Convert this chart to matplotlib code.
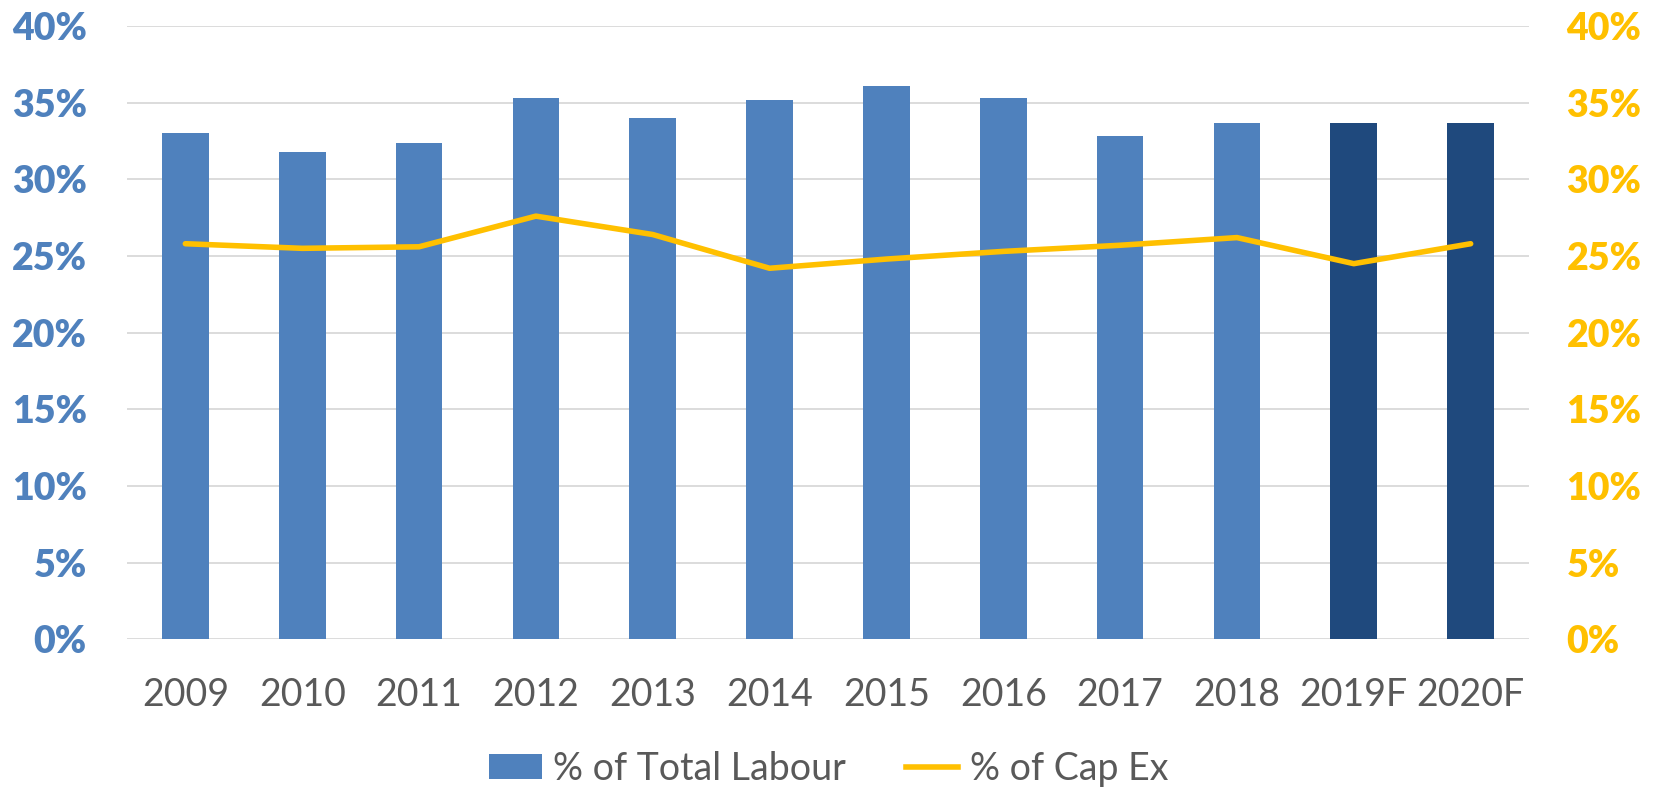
import matplotlib
matplotlib.use("Agg")
import matplotlib.pyplot as plt
import numpy as np
from matplotlib.patches import Patch
from matplotlib.lines import Line2D
from matplotlib.ticker import FuncFormatter

years = ["2009", "2010", "2011", "2012", "2013", "2014", "2015", "2016",
         "2017", "2018", "2019F", "2020F"]
total_labour = [33.0, 31.8, 32.4, 35.3, 34.0, 35.2, 36.1, 35.3, 32.8, 33.7, 33.7, 33.7]
cap_ex = [25.8, 25.5, 25.6, 27.6, 26.4, 24.2, 24.8, 25.3, 25.7, 26.2, 24.5, 25.8]
y_ticks = [0, 5, 10, 15, 20, 25, 30, 35, 40]

BLUE = "#4F81BD"
DARK = "#1F497D"
GOLD = "#FFC000"
GRID = "#D9D9D9"
GRAY = "#595959"
FONT = ["Lato", "DejaVu Sans"]

fig = plt.figure(figsize=(16.57, 7.88), dpi=100)
ax = fig.add_axes([0.0766, 0.1887, 0.9228 - 0.0766, 0.967 - 0.1887])
ax2 = ax.twinx()

x = np.arange(len(years))
colors = [DARK if y.endswith("F") else BLUE for y in years]
ax.bar(x, total_labour, width=0.4, color=colors, zorder=2)
ax2.plot(x, cap_ex, color=GOLD, lw=4, solid_capstyle="round",
         solid_joinstyle="round", zorder=3)

for a in (ax, ax2):
    a.set_ylim(0, 40)
    a.set_yticks(y_ticks)
    a.set_xlim(-0.5, len(years) - 0.5)
    for s in a.spines.values():
        s.set_visible(False)
    a.yaxis.set_major_formatter(FuncFormatter(lambda v, p: f"{int(v)}%"))

ax.set_axisbelow(True)
ax.grid(axis="y", color=GRID, lw=1.3, zorder=0)
ax.tick_params(axis="y", length=0, pad=29, labelsize=27, labelcolor=BLUE)
ax2.tick_params(axis="y", length=0, pad=27, labelsize=27, labelcolor=GOLD)
for lab in ax.get_yticklabels():
    lab.set_fontweight("heavy"); lab.set_family(FONT)
for lab in ax2.get_yticklabels():
    lab.set_fontweight("heavy"); lab.set_family(FONT)

ax.set_xticks(x)
ax.set_xticklabels(years, family=FONT, fontsize=27, color=GRAY)
ax.tick_params(axis="x", length=0, pad=27)

handles = [Patch(facecolor=BLUE, edgecolor="none"),
           Line2D([0], [0], color=GOLD, lw=4)]
fig.legend(handles, ["% of Total Labour", "% of Cap Ex"], loc="center",
           bbox_to_anchor=(0.5, 1 - 769 / 788), ncol=2, frameon=False,
           prop={"family": FONT, "size": 27}, labelcolor=GRAY,
           handlelength=1.4, handleheight=0.65, handletextpad=0.3,
           columnspacing=1.6)

fig.savefig("out.png", dpi=100)
